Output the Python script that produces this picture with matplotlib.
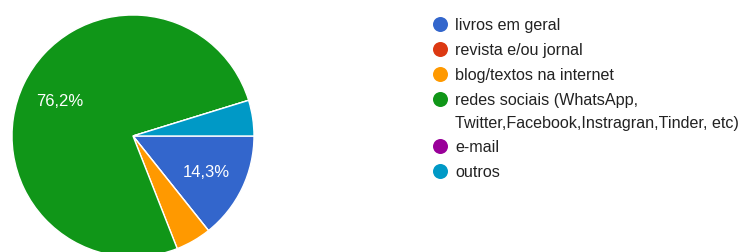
import matplotlib
matplotlib.use('Agg')
from matplotlib import pyplot as plt

plt.rcParams['font.family'] = ['Liberation Sans', 'DejaVu Sans']

labels = ['livros em geral', 'revista e/ou jornal', 'blog/textos na internet',
          'redes sociais (WhatsApp,\nTwitter,Facebook,Instragran,Tinder, etc)',
          'e-mail', 'outros']
counts = [3, 0, 1, 16, 0, 1]
colors = ['#3366cc', '#dc3912', '#ff9900', '#109618', '#990099', '#0099c6']

W, H = 742, 253
fig = plt.figure(figsize=(W / 100, H / 100), dpi=100)

# pie axes: centre (133,137) px, radius 121 px
cx, cy, r = 133, 137, 121
ax = fig.add_axes([(cx - r) / W, (H - cy - r) / H, 2 * r / W, 2 * r / H])


def pct_label(p):
    if p < 10:
        return ''
    return ('%.1f%%' % p).replace('.', ',')


wedges, texts, autotexts = ax.pie(counts, colors=colors, startangle=0,
                                  counterclock=False, autopct=pct_label,
                                  pctdistance=0.67, radius=1,
                                  wedgeprops=dict(edgecolor='white', linewidth=1))
for t in autotexts:
    t.set_color('white')
    t.set_fontsize(12)
ax.set_xlim(-1, 1)
ax.set_ylim(-1, 1)
ax.set_aspect('equal')
ax.axis('off')

# legend drawn in pixel coords
lg = fig.add_axes([0, 0, 1, 1])
lg.set_xlim(0, W)
lg.set_ylim(H, 0)
lg.axis('off')
y = 25
for lab, col in zip(labels, colors):
    lg.plot(440, y, 'o', color=col, markersize=10.8, markeredgewidth=0)
    for i, line in enumerate(lab.split('\n')):
        lg.text(455, y + 5 + 23 * i, line, fontsize=11.6, color='#222222',
                va='baseline', ha='left')
    y += 25 + 22 * lab.count('\n')

fig.savefig('out.png', dpi=100)
